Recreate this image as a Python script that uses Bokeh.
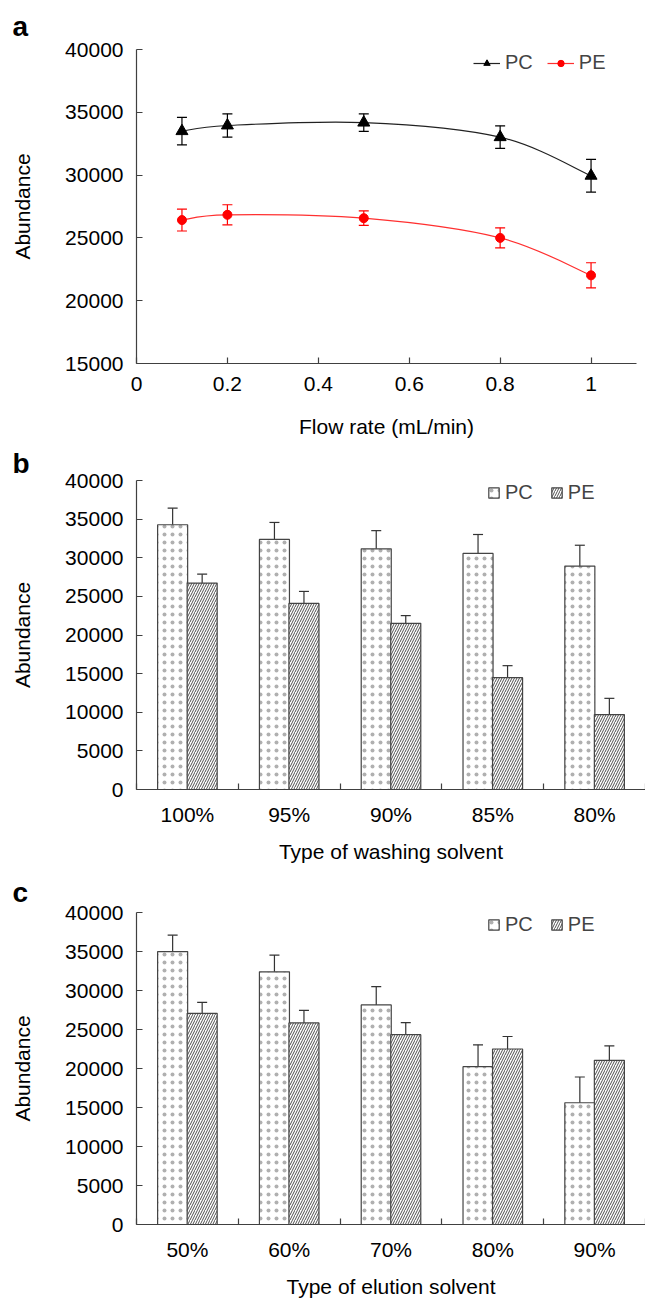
from bokeh.plotting import figure
from bokeh.models import (Range1d, FixedTicker, ColumnDataSource, Whisker, TeeHead,
                          Legend, LegendItem, Title)
from bokeh.layouts import column
from bokeh.embed import file_html
from bokeh.resources import INLINE

FONT = "Liberation Sans"
AX = "#404040"

# ---------------- data ----------------
flow_rate = [0.1, 0.2, 0.5, 0.8, 1.0]
pc_flow = [33500, 33950, 34180, 33020, 29950]
pc_flow_err = [1100, 930, 700, 900, 1300]
pe_flow = [26420, 26840, 26570, 25000, 22020]
pe_flow_err = [870, 800, 580, 800, 1000]
flow_ticks = [0, 0.2, 0.4, 0.6, 0.8, 1.0]
flow_tick_labels = ["0", "0.2", "0.4", "0.6", "0.8", "1"]
abund_ticks_a = [15000, 20000, 25000, 30000, 35000, 40000]

wash_cats = ["100%", "95%", "90%", "85%", "80%"]
pc_wash = [34270, 32370, 31160, 30560, 28920]
pc_wash_err = [2150, 2200, 2350, 2450, 2700]
pe_wash = [26720, 24090, 21510, 14480, 9700]
pe_wash_err = [1150, 1550, 1000, 1550, 2100]

elu_cats = ["50%", "60%", "70%", "80%", "90%"]
pc_elu = [34990, 32390, 28150, 20240, 15610]
pc_elu_err = [2100, 2150, 2350, 2800, 3300]
pe_elu = [27080, 25840, 24340, 22500, 21050]
pe_elu_err = [1400, 1600, 1550, 1600, 1850]
abund_ticks_bar = [0, 5000, 10000, 15000, 20000, 25000, 30000, 35000, 40000]


def style(p, panel_letter, standoff):
    p.outline_line_color = None
    p.xgrid.visible = False
    p.ygrid.visible = False
    p.background_fill_color = "white"
    p.border_fill_color = "white"
    for ax in (p.xaxis[0], p.yaxis[0]):
        ax.axis_line_color = AX
        ax.axis_line_width = 1.2
        ax.major_tick_line_color = AX
        ax.major_tick_line_width = 1.2
        ax.major_tick_in = 6
        ax.major_tick_out = 0
        ax.minor_tick_line_color = None
        ax.major_label_text_font = FONT
        ax.major_label_text_font_size = "21px"
        ax.major_label_text_color = "black"
        ax.axis_label_text_font = FONT
        ax.axis_label_text_font_size = "21px"
        ax.axis_label_text_font_style = "normal"
        ax.axis_label_text_color = "black"
    p.yaxis[0].major_label_standoff = 13
    p.yaxis[0].axis_label_standoff = 28
    t = Title(text=panel_letter, text_font=FONT, text_font_size="28px",
              text_font_style="bold", text_color="black",
              align="left", offset=-124, standoff=standoff)
    p.add_layout(t, "above")


def bezier_segments(xs, ys):
    n = len(xs)
    P = list(zip(xs, ys))
    d = dict(x0=[], y0=[], x1=[], y1=[], cx0=[], cy0=[], cx1=[], cy1=[])
    for i in range(n - 1):
        p0 = P[max(i - 1, 0)]
        p1 = P[i]
        p2 = P[i + 1]
        p3 = P[min(i + 2, n - 1)]
        d["x0"].append(p1[0]); d["y0"].append(p1[1])
        d["x1"].append(p2[0]); d["y1"].append(p2[1])
        d["cx0"].append(p1[0] + (p2[0] - p0[0]) / 6)
        d["cy0"].append(p1[1] + (p2[1] - p0[1]) / 6)
        d["cx1"].append(p2[0] - (p3[0] - p1[0]) / 6)
        d["cy1"].append(p2[1] - (p3[1] - p1[1]) / 6)
    return d


# ---------------- panel a ----------------
pa = figure(frame_width=500, frame_height=314, min_border_left=136, min_border_right=9,
            min_border_top=49, min_border_bottom=79,
            x_range=Range1d(0, 1.1), y_range=Range1d(15000, 40000),
            output_backend="svg", toolbar_location=None)
style(pa, "a", 16)
pa.xaxis[0].ticker = FixedTicker(ticks=flow_ticks)
pa.xaxis[0].major_label_overrides = {t: l for t, l in zip(flow_ticks, flow_tick_labels)}
pa.yaxis[0].ticker = FixedTicker(ticks=abund_ticks_a)
pa.xaxis[0].axis_label = "Flow rate (mL/min)"
pa.yaxis[0].axis_label = "Abundance"
pa.xaxis[0].major_label_standoff = 13
pa.xaxis[0].axis_label_standoff = 21

series_a = [("PC", pc_flow, pc_flow_err, "#222222", "#000000", "triangle", 12),
            ("PE", pe_flow, pe_flow_err, "#ff3030", "#ff0000", "circle", 9)]
items = []
for name, ys, err, lc, mc, mk, sz in series_a:
    bz = pa.bezier(source=ColumnDataSource(bezier_segments(flow_rate, ys)),
                   x0="x0", y0="y0", x1="x1", y1="y1",
                   cx0="cx0", cy0="cy0", cx1="cx1", cy1="cy1",
                   line_color=lc, line_width=1.2)
    src = ColumnDataSource(dict(x=flow_rate, y=ys,
                                upper=[v + e for v, e in zip(ys, err)],
                                lower=[v - e for v, e in zip(ys, err)]))
    w = Whisker(base="x", upper="upper", lower="lower", source=src,
                line_color=mc, line_width=1.2,
                upper_head=TeeHead(size=10, line_color=mc, line_width=1.2),
                lower_head=TeeHead(size=10, line_color=mc, line_width=1.2))
    pa.add_layout(w)
    sc = pa.scatter("x", "y", source=src, marker=mk, size=sz,
                    fill_color=mc, line_color=mc)
    items.append(LegendItem(label=name, renderers=[bz, sc]))

leg = Legend(items=items, orientation="horizontal", location=(337, 289),
             border_line_color=None, background_fill_alpha=0,
             label_text_font=FONT, label_text_font_size="20px",
             glyph_width=27, glyph_height=16, label_standoff=5, spacing=14,
             padding=0, margin=0, label_height=20)
pa.add_layout(leg, "center")


# ---------------- bar panels ----------------
def bar_panel(letter, cats, pc, pc_err, pe, pe_err, xlabel, top, fh, bottom, standoff):
    p = figure(frame_width=509, frame_height=fh, min_border_left=136, min_border_right=0,
               min_border_top=top, min_border_bottom=bottom,
               x_range=Range1d(0, len(cats)), y_range=Range1d(0, 40000),
               output_backend="svg", toolbar_location=None)
    style(p, letter, standoff)
    centers = [i + 0.5 for i in range(len(cats))]
    bounds = list(range(len(cats) + 1))
    xa = p.xaxis[0]
    xa.ticker = FixedTicker(ticks=centers, minor_ticks=bounds)
    xa.major_label_overrides = {c: l for c, l in zip(centers, cats)}
    xa.major_tick_in = 0
    xa.major_tick_out = 0
    xa.minor_tick_line_color = AX
    xa.minor_tick_line_width = 1.2
    xa.minor_tick_in = 6
    xa.minor_tick_out = 0
    xa.major_label_standoff = 13
    xa.axis_label = xlabel
    xa.axis_label_standoff = 11
    p.yaxis[0].ticker = FixedTicker(ticks=abund_ticks_bar)
    p.yaxis[0].axis_label = "Abundance"

    w = 0.295
    off = 0.145
    legend_items = []
    for name, vals, err, dx, hp, hs, hw, hc in [
            ("PC", pc, pc_err, -off, "dot", 8, 0.4, "#b0b0b0"),
            ("PE", pe, pe_err, off, "right_diagonal_line", 5, 1, "#505050")]:
        xs = [c + dx for c in centers]
        src = ColumnDataSource(dict(x=xs, top=vals,
                                    upper=[v + e for v, e in zip(vals, err)],
                                    lower=[v - e for v, e in zip(vals, err)]))
        r = p.vbar(x="x", top="top", bottom=0, width=w, source=src,
                   fill_color="white", line_color="#444444", line_width=1.2,
                   hatch_pattern=hp, hatch_scale=hs, hatch_color=hc, hatch_weight=hw)
        wk = Whisker(base="x", upper="upper", lower="lower", source=src,
                     line_color="#333333", line_width=1.2,
                     upper_head=TeeHead(size=10, line_color="#333333", line_width=1.2),
                     lower_head=TeeHead(size=10, line_color="#333333", line_width=1.2))
        p.add_layout(wk)
        legend_items.append(LegendItem(label=name, renderers=[r]))
    lg = Legend(items=legend_items, orientation="horizontal",
                border_line_color=None, background_fill_alpha=0,
                label_text_font=FONT, label_text_font_size="20px",
                glyph_width=13, glyph_height=13, label_standoff=5, spacing=17,
                padding=0, margin=0, label_height=20)
    return p, lg


pb, lgb = bar_panel("b", wash_cats, pc_wash, pc_wash_err, pe_wash, pe_wash_err,
                    "Type of washing solvent", 38, 309, 81, 4)
lgb.location = (351, 285)
pb.add_layout(lgb, "center")

pc_, lgc = bar_panel("c", elu_cats, pc_elu, pc_elu_err, pe_elu, pe_elu_err,
                     "Type of elution solvent", 42, 312, 70, 9)
lgc.location = (351, 288)
pc_.add_layout(lgc, "center")

layout = column(pa, pb, pc_, spacing=0)
open("out.html", "w").write(file_html(layout, INLINE))
